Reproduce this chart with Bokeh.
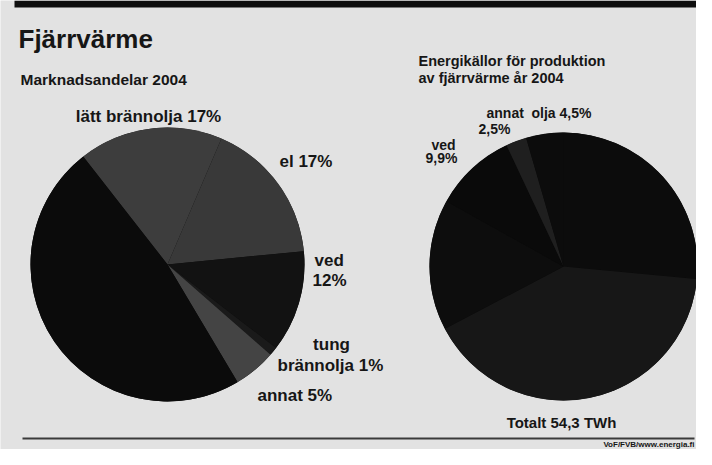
import numpy as np
from bokeh.plotting import figure
from bokeh.models import ColumnDataSource, Range1d
from bokeh.core.properties import value
from bokeh.embed import file_html
from bokeh.resources import INLINE

# ---------------- data ----------------
market_labels = ["lätt brännolja", "el", "ved", "tung brännolja", "annat", "fjärrvärme"]
market_shares = [17, 17, 12, 1, 5, 48]
market_colors = ["#3d3d3d", "#393939", "#121212", "#1a1a1a", "#444444", "#0b0b0b"]

prod_labels = ["övrigt 1", "övrigt 2", "övrigt 3", "ved", "annat", "olja"]
prod_shares = [26.5, 40.8, 15.8, 9.9, 2.5, 4.5]
prod_colors = ["#0c0c0c", "#171717", "#0d0d0d", "#0a0a0a", "#1f1f1f", "#0c0c0c"]
total_twh = 54.3

title = "Fjärrvärme"
left_title = "Marknadsandelar 2004"
right_title = ["Energikällor för produktion", "av fjärrvärme år 2004"]
footer = "VoF/FVB/www.energia.fi"

# ---------------- layout (reference pixel frame, 1:1 from top-left) ----------------
H = 465
def Y(ry):
    return H - ry

BG = "#e2e2e2"
INK = "#161616"
FONT = value("Liberation Sans")

p = figure(width=696, height=449, output_backend="svg", toolbar_location=None,
           x_range=Range1d(0, 696), y_range=Range1d(Y(449), Y(0)), min_border=0,
           background_fill_color=BG, border_fill_color=BG, outline_line_color=None)
p.axis.visible = False
p.grid.visible = False


def pct(v):
    return f"{v:g}".replace(".", ",") + "%"


def pie(shares, colors, cx, cy, r, start_deg):
    v = np.asarray(shares, dtype=float)
    cum = np.concatenate([[0.0], np.cumsum(v / v.sum())]) * 2 * np.pi
    t0 = np.deg2rad(start_deg) + cum[:-1]
    t1 = np.deg2rad(start_deg) + cum[1:]
    p.circle(x=[cx], y=[cy], radius=r, fill_color="#0b0b0b", line_color=None)
    src = ColumnDataSource(dict(start=np.pi / 2 - t1, end=np.pi / 2 - t0, color=colors))
    p.wedge(x=cx, y=cy, radius=r, start_angle="start", end_angle="end",
            direction="anticlock", fill_color="color", line_color=None, source=src)


pie(market_shares, market_colors, 167, Y(264), 137, -38)
pie(prod_shares, prod_colors, 563, Y(266), 134, 0)

# top band and bottom rule
p.quad(left=[14], right=[696], bottom=[Y(7)], top=[Y(0)], fill_color="#0e0e0e", line_color=None)
p.line(x=[22, 694], y=[Y(438), Y(438)], line_color="#3a3a3a", line_width=2)


def txt(x, y, s, size, align="left", style="bold"):
    p.text(x=[x], y=[Y(y)], text=[s], text_font=FONT, text_font_size=f"{size}px",
           text_font_style=style, text_color=INK, text_align=align, text_baseline="middle")


txt(18, 38, title, 26)
txt(20, 79, left_title, 15.5)
txt(418, 60, right_title[0], 14.5)
txt(418, 77, right_title[1], 14.5)

m = dict(zip(market_labels, market_shares))
txt(148, 116, f"lätt brännolja {pct(m['lätt brännolja'])}", 17, align="center")
txt(279, 161, f"el {pct(m['el'])}", 17)
txt(314, 260, "ved", 17)
txt(312, 280, pct(m["ved"]), 17)
txt(331, 344, "tung", 17, align="center")
txt(277, 365, f"brännolja {pct(m['tung brännolja'])}", 17)
txt(257, 395, f"annat {pct(m['annat'])}", 17)

q = dict(zip(prod_labels, prod_shares))
txt(486, 112, "annat", 14)
txt(478, 128, pct(q["annat"]), 14)
txt(531, 112, f"olja {pct(q['olja'])}", 14)
txt(443, 144, "ved", 14, align="center")
txt(441, 157, pct(q["ved"]), 14, align="center")
txt(561, 422, f"Totalt {total_twh:g} TWh".replace(".", ","), 15, align="center")

txt(694, 443.5, footer, 8, align="right")

open("out.html", "w").write(file_html(p, INLINE))
